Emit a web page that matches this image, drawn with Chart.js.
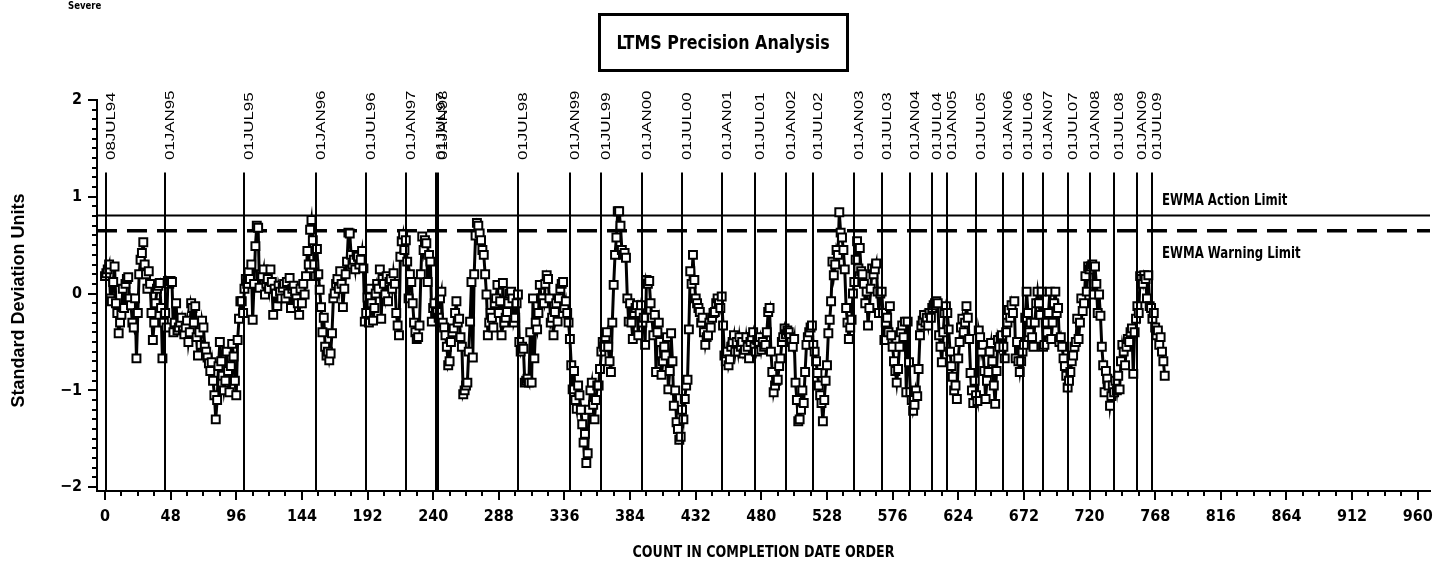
<!DOCTYPE html>
<html><head><meta charset="utf-8">
<script src="https://cdn.jsdelivr.net/npm/chart.js@4.4.1/dist/chart.umd.min.js"></script>
<style>html,body{margin:0;padding:0;background:#fff;}#wrap{width:1455px;height:563px;position:relative;}</style>
</head><body><div id="wrap"><canvas id="c" width="1455" height="563"></canvas></div>
<script>
// EWMA values in completion-date order (count 0 .. 775)
const EWMA = [
0.18,0.21,0.25,0.30,-0.05,-0.08,0.12,0.28,-0.10,-0.20,
-0.41,-0.30,-0.22,0.05,-0.15,0.10,0.15,0.17,-0.05,-0.12,
-0.30,-0.35,-0.05,-0.67,-0.20,0.20,0.35,0.42,0.53,0.30,
0.20,0.05,0.23,0.10,-0.20,-0.48,-0.30,-0.10,0.05,0.08,
0.11,-0.15,-0.67,-0.30,-0.20,-0.35,0.13,0.10,0.13,0.12,
-0.40,-0.30,-0.10,-0.38,-0.35,-0.30,-0.25,-0.38,-0.42,-0.35,
-0.28,-0.50,-0.40,-0.10,-0.15,-0.30,-0.13,-0.45,-0.64,-0.40,
-0.53,-0.28,-0.35,-0.55,-0.60,-0.66,-0.72,-0.80,-0.71,-0.90,
-1.05,-1.30,-1.10,-0.75,-0.50,-0.70,-0.85,-1.00,-0.90,-0.60,
-0.80,-1.02,-0.75,-0.52,-0.65,-0.90,-1.05,-0.48,-0.26,-0.08,
-0.08,-0.20,0.05,0.15,0.10,0.22,0.15,0.30,-0.27,0.10,
0.49,0.70,0.68,0.06,0.20,0.18,0.25,-0.01,0.10,0.15,
0.05,0.25,0.12,-0.22,0.05,0.00,-0.13,0.08,0.02,-0.05,
0.06,0.10,-0.05,0.12,0.00,0.16,-0.15,0.05,0.08,0.02,
-0.05,-0.10,-0.22,0.05,-0.10,0.10,-0.01,0.18,0.44,0.30,
0.66,0.76,0.55,0.30,0.18,0.46,0.20,0.04,-0.14,-0.40,
-0.25,-0.55,-0.64,-0.60,-0.69,-0.62,-0.41,-0.05,0.00,0.10,
0.15,0.05,0.23,0.10,-0.14,0.05,0.20,0.33,0.63,0.62,
0.40,0.30,0.35,0.25,0.40,0.38,0.30,0.35,0.44,0.26,
-0.29,-0.20,-0.04,-0.30,0.05,-0.10,-0.28,-0.15,0.00,0.10,
0.05,0.25,-0.26,0.15,0.10,-0.01,0.18,-0.08,0.12,0.15,
0.05,0.21,0.10,-0.20,-0.33,-0.43,0.38,0.54,0.61,0.45,
0.55,0.33,-0.05,0.20,0.12,-0.10,-0.30,-0.40,-0.47,-0.45,
-0.33,0.20,0.59,0.45,0.55,0.52,0.12,0.40,0.33,-0.29,
-0.15,-0.10,-0.20,-0.19,-0.25,-0.05,0.02,-0.30,-0.35,-0.43,
-0.55,-0.74,-0.70,-0.50,-0.40,-0.36,-0.20,-0.08,-0.30,-0.26,
-0.45,-0.55,-1.04,-1.00,-0.95,-0.92,-0.60,-0.29,0.12,-0.66,
0.20,0.60,0.73,0.70,0.62,0.55,0.45,0.40,0.20,-0.01,
-0.43,-0.30,-0.20,-0.25,-0.35,-0.10,-0.05,0.09,-0.20,-0.08,
-0.43,0.11,-0.30,-0.25,-0.19,-0.10,0.00,0.02,-0.05,-0.30,
-0.25,-0.10,-0.01,-0.50,-0.60,-0.55,-0.57,-0.92,-0.90,-0.88,
-0.92,-0.40,-0.92,-0.05,-0.67,-0.30,-0.37,-0.20,0.09,-0.05,
-0.05,-0.10,0.10,0.19,0.15,-0.05,-0.30,-0.25,-0.43,-0.19,
-0.10,-0.29,-0.05,0.05,0.10,0.12,-0.15,-0.08,-0.20,-0.30,
-0.47,-0.74,-0.99,-0.80,-1.10,-1.19,-0.95,-1.05,-1.20,-1.35,
-1.54,-1.45,-1.75,-1.65,-1.20,-1.00,-0.92,-1.15,-1.30,-1.10,
-0.95,-0.95,-0.78,-0.60,-0.50,-0.55,-0.45,-0.40,-0.55,-0.70,
-0.81,-0.30,0.09,0.40,0.58,0.85,0.85,0.70,0.45,0.40,
0.42,0.37,-0.05,-0.29,-0.10,-0.30,-0.47,-0.20,-0.15,-0.12,
-0.43,-0.20,-0.12,-0.30,-0.25,-0.53,0.14,0.10,0.13,-0.10,
-0.25,-0.43,-0.22,-0.81,-0.40,-0.30,-0.50,-0.84,-0.70,-0.55,
-0.64,-0.45,-0.99,-0.80,-0.41,-0.70,-1.16,-1.00,-1.33,-1.40,
-1.51,-1.48,-1.20,-1.30,-1.09,-0.95,-0.89,-0.37,0.23,0.10,
0.40,0.14,-0.05,-0.10,-0.15,-0.19,-0.30,-0.25,-0.40,-0.53,
-0.45,-0.43,-0.30,-0.35,-0.25,-0.20,-0.19,-0.10,-0.05,-0.10,
-0.15,-0.03,-0.33,-0.64,-0.70,-0.60,-0.74,-0.68,-0.55,-0.50,
-0.43,-0.60,-0.50,-0.60,-0.45,-0.55,-0.50,-0.62,-0.58,-0.45,
-0.55,-0.67,-0.50,-0.45,-0.40,-0.55,-0.60,-0.48,-0.50,-0.45,
-0.58,-0.50,-0.55,-0.53,-0.40,-0.19,-0.15,-0.60,-0.81,-1.02,
-0.95,-0.90,-0.89,-0.75,-0.67,-0.50,-0.45,-0.36,-0.42,-0.38,
-0.40,-0.45,-0.50,-0.55,-0.47,-0.92,-1.10,-1.32,-1.30,-1.20,
-1.00,-1.13,-0.81,-0.53,-0.45,-0.40,-0.35,-0.33,-0.53,-0.60,
-0.70,-0.82,-0.95,-1.05,-1.13,-1.32,-1.10,-0.90,-0.74,-0.41,
-0.27,-0.08,0.33,0.19,0.30,0.45,0.40,0.84,0.63,0.58,
0.45,0.25,-0.15,-0.30,-0.47,-0.35,-0.27,0.00,0.12,0.35,
0.54,0.26,0.47,0.23,0.20,0.10,-0.10,0.02,-0.33,-0.15,
0.05,0.26,0.20,0.25,0.31,0.02,-0.20,0.00,0.02,-0.20,
-0.48,-0.30,-0.25,-0.40,-0.13,-0.43,-0.55,-0.70,-0.80,-0.92,
-0.78,-0.55,-0.40,-0.33,-0.45,-0.29,-1.02,-0.29,-0.71,-1.02,
-1.10,-1.21,-1.15,-1.00,-1.06,-0.78,-0.43,-0.33,-0.28,-0.22,
-0.30,-0.25,-0.33,-0.20,-0.25,-0.15,-0.12,-0.10,-0.08,-0.10,
-0.43,-0.55,-0.71,-0.40,-0.20,-0.13,-0.20,-0.37,-0.60,-0.75,
-0.86,-1.00,-0.95,-1.09,-0.67,-0.50,-0.35,-0.26,-0.40,-0.30,
-0.13,-0.25,-0.47,-0.82,-1.00,-1.13,-0.90,-1.05,-1.11,-0.38,
-0.45,-0.60,-0.53,-0.80,-1.09,-0.90,-0.81,-0.60,-0.51,-0.70,
-0.95,-1.14,-0.80,-0.48,-0.55,-0.45,-0.43,-0.55,-0.67,-0.40,
-0.30,-0.17,-0.25,-0.12,-0.20,-0.08,-0.67,-0.50,-0.70,-0.81,
-0.70,-0.60,-0.53,-0.25,0.02,-0.20,-0.40,-0.30,-0.45,-0.55,
-0.30,-0.10,0.02,-0.10,-0.22,0.02,-0.55,-0.53,-0.30,-0.40,
-0.20,0.02,-0.47,-0.30,-0.10,0.02,-0.20,-0.15,-0.50,-0.45,
-0.55,-0.67,-0.75,-0.85,-0.97,-0.90,-0.81,-0.70,-0.64,-0.55,
-0.50,-0.26,-0.47,-0.30,-0.05,-0.18,-0.10,0.18,0.02,0.28,
0.25,0.28,0.30,-0.01,0.28,0.10,-0.20,-0.01,-0.23,-0.55,
-0.74,-1.02,-0.80,-0.88,-0.95,-1.16,-1.06,-0.95,-1.02,-0.90,
-1.00,-0.85,-0.99,-0.70,-0.53,-0.60,-0.74,-0.55,-0.47,-0.50,
-0.40,-0.36,-0.83,-0.40,-0.26,-0.13,-0.20,0.18,0.15,0.10,
0.19,0.15,-0.05,0.19,-0.13,-0.15,-0.26,-0.20,-0.35,-0.43,
-0.38,-0.53,-0.45,-0.60,-0.70,-0.85
];
const DATE_LABELS = ["08JUL94","01JAN95","01JUL95","01JAN96","01JUL96","01JAN97","01JUL97","01JAN98","01JUL98","01JAN99","01JUL99","01JAN00","01JUL00","01JAN01","01JUL01","01JAN02","01JUL02","01JAN03","01JUL03","01JAN04","01JUL04","01JAN05","01JUL05","01JAN06","01JUL06","01JAN07","01JUL07","01JAN08","01JUL08","01JAN09","01JUL09"];
const DATE_COUNTS = [1,44,102,154,191,220,242,243.5,302,340,363,393,422,451,475,498,518,548,568,589,605,616,637,657,671,686,704,720,738,755,766];
const ACTION_LIMIT = 0.806;
const WARNING_LIMIT = 0.649;
const X_TICKS = [0,48,96,144,192,240,288,336,384,432,480,528,576,624,672,720,768,816,864,912,960];
const Y_TICKS = [-2,-1,0,1,2];
const X_MIN = -5.85, X_MAX = 969;
const Y_MIN = -2.04, Y_MAX = 2;

const NARROW = '"Liberation Sans Narrow","DejaVu Sans Condensed","Arial Narrow",sans-serif';

function condensedText(ctx, text, x, y, sx, align) {
  ctx.save();
  ctx.translate(x, y);
  ctx.scale(sx, 1);
  ctx.textAlign = align;
  ctx.fillText(text, 0, 0);
  ctx.restore();
}

const extras = {
  id: 'extras',
  afterDraw(chart) {
    const ctx = chart.ctx, xs = chart.scales.x, ys = chart.scales.y, a = chart.chartArea;
    ctx.save();
    // minor ticks
    ctx.strokeStyle = '#000'; ctx.lineWidth = 2;
    for (let v = 0; v <= 960; v += 12) {
      if (v % 48 === 0) continue;
      const px = Math.round(xs.getPixelForValue(v));
      ctx.beginPath(); ctx.moveTo(px, a.bottom); ctx.lineTo(px, a.bottom + 5); ctx.stroke();
    }
    for (let i = -20; i <= 20; i++) {
      if (i % 10 === 0) continue;
      const py = Math.round(ys.getPixelForValue(i / 10));
      ctx.beginPath(); ctx.moveTo(a.left, py); ctx.lineTo(a.left - 5, py); ctx.stroke();
    }
    // date reference lines
    const topV = 1.25;
    ctx.lineWidth = 2;
    DATE_COUNTS.forEach((c, i) => {
      const px = Math.round(xs.getPixelForValue(c));
      ctx.beginPath(); ctx.moveTo(px, ys.getPixelForValue(topV)); ctx.lineTo(px, a.bottom); ctx.stroke();
      ctx.save();
      ctx.translate(px + 9, 160);
      ctx.rotate(-Math.PI / 2);
      ctx.scale(1.3, 1);
      ctx.fillStyle = '#000';
      ctx.font = '13px "Liberation Sans","DejaVu Sans",sans-serif';
      ctx.textAlign = 'left'; ctx.textBaseline = 'alphabetic';
      ctx.fillText(DATE_LABELS[i], 0, 0);
      ctx.restore();
    });
    // limit labels
    ctx.fillStyle = '#000';
    ctx.font = 'bold 15px ' + NARROW;
    ctx.textBaseline = 'middle';
    condensedText(ctx, 'EWMA Action Limit', 1162, 201, 0.87, 'left');
    condensedText(ctx, 'EWMA Warning Limit', 1162, 254, 0.87, 'left');
    // title box
    ctx.lineWidth = 3;
    ctx.strokeRect(599.5, 14.5, 248, 56);
    ctx.font = 'bold 19px ' + NARROW;
    condensedText(ctx, 'LTMS Precision Analysis', 723, 44, 0.93, 'center');
    // Severe
    ctx.font = 'bold 10px ' + NARROW;
    condensedText(ctx, 'Severe', 68, 6, 0.95, 'left');
    // axis titles
    ctx.font = 'bold 16px ' + NARROW;
    condensedText(ctx, 'COUNT IN COMPLETION DATE ORDER', (a.left + a.right) / 2, 553, 0.88, 'center');
    ctx.save();
    ctx.translate(19, (a.top + a.bottom) / 2 + 5);
    ctx.rotate(-Math.PI / 2);
    ctx.font = 'bold 18px "Liberation Sans","DejaVu Sans",sans-serif';
    ctx.textAlign = 'center';
    ctx.fillText('Standard Deviation Units', 0, 0);
    ctx.restore();
    ctx.restore();
  }
};

const points = EWMA.map((v, i) => ({x: i, y: v}));
const limitLine = (v) => [{x: X_MIN, y: v}, {x: X_MAX, y: v}];

new Chart(document.getElementById('c'), {
  type: 'line',
  data: {
    datasets: [
      {label: 'EWMA Action Limit', data: limitLine(ACTION_LIMIT), borderColor: '#000', borderWidth: 2, pointRadius: 0, order: 2},
      {label: 'EWMA Warning Limit', data: limitLine(WARNING_LIMIT), borderColor: '#000', borderWidth: 3.5, borderDash: [20, 10], pointRadius: 0, order: 2},
      {label: 'EWMA', data: points, borderColor: '#000', borderWidth: 3, pointStyle: 'rect', pointRadius: 5.6, pointBorderWidth: 2, pointBorderColor: '#000', pointBackgroundColor: '#fff', order: 1}
    ]
  },
  options: {
    responsive: false, animation: false, devicePixelRatio: 1,
    layout: {padding: {top: 100, right: 25, left: 0, bottom: 0}},
    plugins: {legend: {display: false}, tooltip: {enabled: false}},
    scales: {
      x: {
        type: 'linear', min: X_MIN, max: X_MAX,
        afterFit: (s) => { s.height = 72; },
        afterBuildTicks: (s) => { s.ticks = X_TICKS.map(v => ({value: v})); },
        grid: {drawOnChartArea: false, drawTicks: true, tickLength: 9, color: '#000', lineWidth: 2},
        border: {display: true, color: '#000', width: 2},
        ticks: {color: '#000', padding: 7, maxRotation: 0, autoSkip: false, font: {family: NARROW, weight: 'bold', size: 16}}
      },
      y: {
        type: 'linear', min: Y_MIN, max: Y_MAX,
        afterFit: (s) => { s.width = 97; },
        afterBuildTicks: (s) => { s.ticks = Y_TICKS.map(v => ({value: v})); },
        grid: {drawOnChartArea: false, drawTicks: true, tickLength: 9, color: '#000', lineWidth: 2},
        border: {display: true, color: '#000', width: 2},
        ticks: {color: '#000', padding: 6, font: {family: NARROW, weight: 'bold', size: 16},
          callback: (v) => (v < 0 ? '\u2212' + Math.abs(v) : String(v))}
      }
    }
  },
  plugins: [extras]
});
</script></body></html>
